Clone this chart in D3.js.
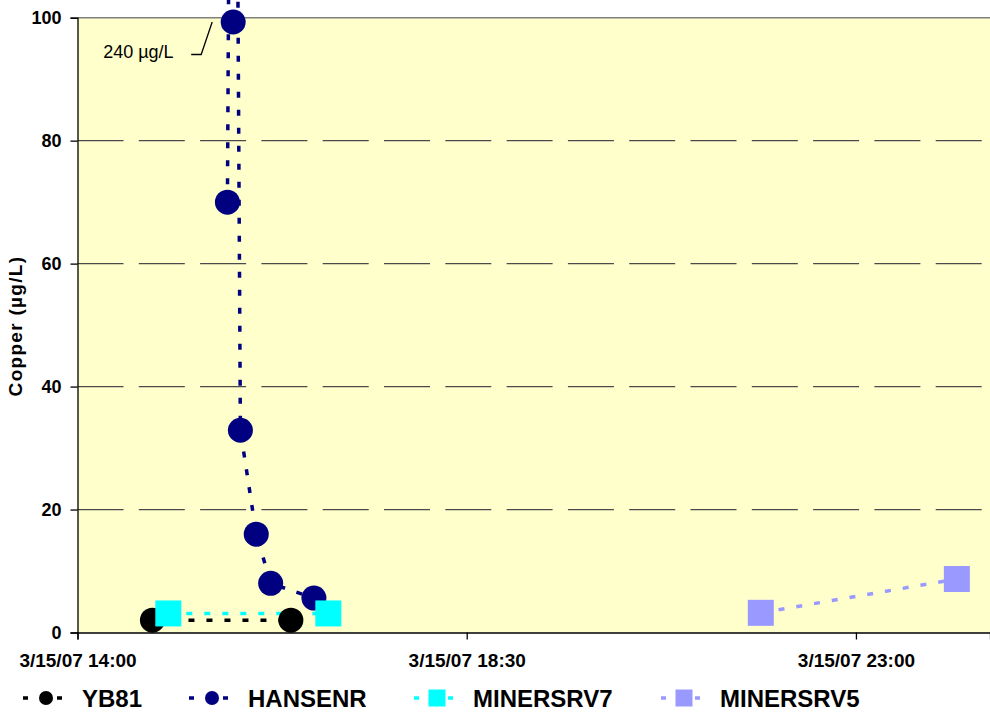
<!DOCTYPE html>
<html>
<head>
<meta charset="utf-8">
<script src="https://cdn.jsdelivr.net/npm/d3@7"></script>
<style>
  html, body { margin: 0; padding: 0; background: #ffffff; }
  svg { display: block; }
  text { font-family: Arial, "Liberation Sans", sans-serif; }
</style>
</head>
<body>
<svg id="chart" width="990" height="713"></svg>
<script>
// ---------- data ----------
const seriesNames = ["YB81", "HANSENR", "MINERSRV7", "MINERSRV5"];
const yb81Times = ["2007-03-15T14:52", "2007-03-15T16:28"];
const yb81Values = [2.0, 2.0];
const hansenrTimes = ["2007-03-15T15:44", "2007-03-15T15:48", "2007-03-15T15:53", "2007-03-15T16:04", "2007-03-15T16:14", "2007-03-15T16:44"];
const hansenrValues = [70.0, 240, 32.9, 16.0, 8.0, 5.6];
const minersrv7Times = ["2007-03-15T15:03", "2007-03-15T16:54"];
const minersrv7Values = [3.1, 3.1];
const minersrv5Times = ["2007-03-15T21:54", "2007-03-16T00:10"];
const minersrv5Values = [3.2, 8.7];
const yTickValues = [0, 20, 40, 60, 80, 100];
const xTickValues = ["2007-03-15T14:00", "2007-03-15T18:30", "2007-03-15T23:00"];
const xTickLabels = ["3/15/07 14:00", "3/15/07 18:30", "3/15/07 23:00"];
const xDomain = ["2007-03-15T14:00", "2007-03-16T00:33"];
const yDomain = [0, 100];
const annotationText = "240 µg/L";
const yAxisTitle = "Copper (µg/L)";

// ---------- styles ----------
const colors = ["#000000", "#000080", "#00FFFF", "#9999FF"];
const shapes = ["circle", "circle", "square", "square"];
const markerCap = 99.3; // off-scale markers are shown at the top edge

const parse = d3.isoParse;
const series = [
  { name: seriesNames[0], times: yb81Times, values: yb81Values },
  { name: seriesNames[1], times: hansenrTimes, values: hansenrValues },
  { name: seriesNames[2], times: minersrv7Times, values: minersrv7Values },
  { name: seriesNames[3], times: minersrv5Times, values: minersrv5Values }
].map((s, i) => ({
  ...s,
  color: colors[i],
  shape: shapes[i],
  points: s.times.map((t, j) => ({ t: parse(t), v: s.values[j] }))
}));

const plot = { left: 77.5, right: 990, top: 17.7, bottom: 632.5 };

const svg = d3.select("#chart");
const x = d3.scaleTime().domain(xDomain.map(parse)).range([plot.left, plot.right]);
const y = d3.scaleLinear().domain(yDomain).range([plot.bottom, plot.top]);

// plot background
svg.append("rect")
  .attr("x", plot.left).attr("y", plot.top)
  .attr("width", plot.right - plot.left).attr("height", plot.bottom - plot.top)
  .attr("fill", "#FFFFCC");

// gridlines
svg.append("g").selectAll("line")
  .data(yTickValues.filter(v => v > 0 && v < 100))
  .join("line")
  .attr("x1", plot.left).attr("x2", plot.right)
  .attr("y1", d => y(d)).attr("y2", d => y(d))
  .attr("stroke", "#4a4a4a").attr("stroke-width", 1.3)
  .attr("stroke-dasharray", "46,15.3");

// top border
svg.append("line")
  .attr("x1", plot.left).attr("x2", plot.right)
  .attr("y1", y(100)).attr("y2", y(100))
  .attr("stroke", "#808080").attr("stroke-width", 1.5);

// y axis
const yAxis = svg.append("g")
  .attr("transform", `translate(${plot.left},0)`)
  .call(d3.axisLeft(y).tickValues(yTickValues).tickSize(7).tickPadding(9).tickFormat(d3.format("d")));
yAxis.select(".domain").attr("stroke", "#000").attr("stroke-width", 1.3);
yAxis.selectAll(".tick line").attr("stroke", "#000").attr("stroke-width", 1.3);
yAxis.selectAll(".tick text")
  .attr("font-size", 18).attr("font-weight", "bold").attr("fill", "#000")
  .attr("font-family", "Arial, 'Liberation Sans', sans-serif");

// x axis
const xAxis = svg.append("g")
  .attr("transform", `translate(0,${plot.bottom})`)
  .call(d3.axisBottom(x).tickValues(xTickValues.map(parse)).tickSize(7).tickPadding(14)
    .tickFormat((d, i) => xTickLabels[i]));
xAxis.select(".domain").attr("stroke", "#000").attr("stroke-width", 1.3);
xAxis.selectAll(".tick line").attr("stroke", "#000").attr("stroke-width", 1.3);
xAxis.selectAll(".tick text")
  .attr("font-size", 19).attr("font-weight", "bold").attr("fill", "#000")
  .attr("font-family", "Arial, 'Liberation Sans', sans-serif");

// y axis title
svg.append("text")
  .attr("transform", `translate(22,326) rotate(-90)`)
  .attr("text-anchor", "middle")
  .attr("font-size", 19).attr("font-weight", "bold")
  .attr("letter-spacing", "1.3px")
  .text(yAxisTitle);

// series lines
const line = d3.line().x(d => x(d.t)).y(d => y(d.v));
svg.append("g").selectAll("path")
  .data(series)
  .join("path")
  .attr("d", d => line(d.points))
  .attr("fill", "none")
  .attr("stroke", d => d.color)
  .attr("stroke-width", 3.5)
  .attr("stroke-dasharray", "6,12");

// markers
function drawMarker(g, shape, color, cx, cy, size) {
  if (shape === "circle") {
    g.append("circle").attr("cx", cx).attr("cy", cy).attr("r", size / 2).attr("fill", color);
  } else {
    g.append("rect").attr("x", cx - size / 2).attr("y", cy - size / 2)
      .attr("width", size).attr("height", size).attr("fill", color);
  }
}
const mg = svg.append("g");
series.forEach(s => {
  s.points.forEach(p => {
    drawMarker(mg, s.shape, s.color, x(p.t), y(Math.min(p.v, markerCap)), s.shape === "circle" ? 25 : 26);
  });
});

// annotation for off-scale value
const peak = series[1].points.reduce((a, b) => (b.v > a.v ? b : a));
const px = x(peak.t), py = y(markerCap);
svg.append("text")
  .attr("x", px - 130).attr("y", py + 36)
  .attr("font-size", 18).attr("fill", "#000")
  .text(annotationText);
svg.append("polyline")
  .attr("points", `${px - 42},${py + 32.5} ${px - 32},${py + 32.5} ${px - 21},${py}`)
  .attr("fill", "none").attr("stroke", "#000").attr("stroke-width", 1.3);

// legend
const legendTextX = [82, 248, 473, 720];
const legendY = 698;
const lg = svg.append("g");
series.forEach((s, i) => {
  const tx = legendTextX[i];
  lg.append("line")
    .attr("x1", tx - 59).attr("x2", tx - 11)
    .attr("y1", legendY).attr("y2", legendY)
    .attr("stroke", s.color).attr("stroke-width", 3.5)
    .attr("stroke-dasharray", "5,12");
  drawMarker(lg, s.shape, s.color, tx - 36, legendY, s.shape === "circle" ? 14 : 17);
  lg.append("text")
    .attr("x", tx).attr("y", legendY + 9)
    .attr("font-size", 24).attr("font-weight", "bold").attr("fill", "#000")
    .text(s.name);
});
</script>
</body>
</html>
